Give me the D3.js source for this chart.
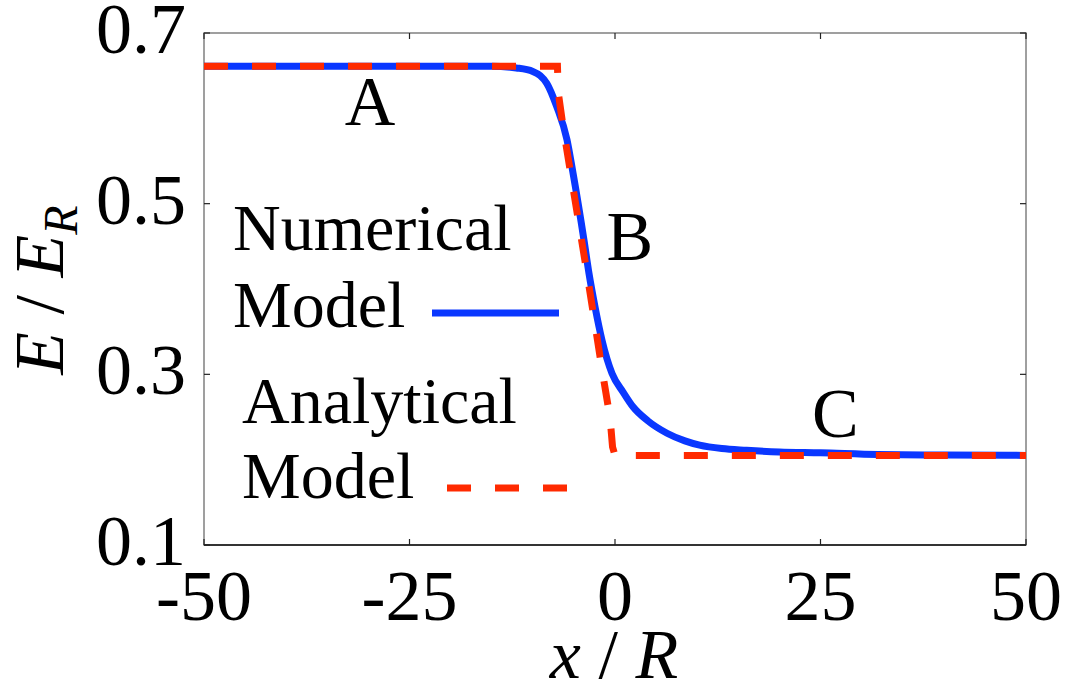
<!DOCTYPE html>
<html>
<head>
<meta charset="utf-8">
<script src="https://cdn.jsdelivr.net/npm/d3@7"></script>
<style>
  html, body { margin: 0; padding: 0; background: #fff; }
  svg { display: block; }
  text { font-family: "Liberation Serif", "Times New Roman", serif; fill: #000; }
</style>
</head>
<body>
<svg id="chart" width="1065" height="687"></svg>
<script>
// numerical model (blue solid)
const numericalX = [-50, -15, -12, -10, -9.1, -8.3, -7.1, -5.84, -5.11, -3.77, -3.16, -2.43, -1.58, -0.36, 1.0, 2.19, 4.0, 6.33, 8.5, 10.3, 13, 16, 20, 25, 32, 40, 50];
const numericalE = [0.661, 0.661, 0.659, 0.655, 0.650, 0.641, 0.614, 0.575, 0.536, 0.457, 0.418, 0.379, 0.340, 0.301, 0.279, 0.262, 0.2455, 0.231, 0.222, 0.217, 0.213, 0.211, 0.209, 0.208, 0.206, 0.2055, 0.205];

// analytical model (red dashed)
const analyticalX = [-50, -7.0, -6.9, -6.3, -3.4, -1.5, -0.6, -0.3, 0, 50];
const analyticalE = [0.661, 0.661, 0.63, 0.589, 0.418, 0.301, 0.249, 0.215, 0.205, 0.205];

const xTicks = [-50, -25, 0, 25, 50];
const yTicks = [0.1, 0.3, 0.5, 0.7];
// letters placed by their baseline
const regionLabels = [
  { text: "A", x: -29.8, e: 0.592 },
  { text: "B", x: 1.8, e: 0.434 },
  { text: "C", x: 26.8, e: 0.227 }
];

const blue = "#0a37ff";
const red = "#ff2a00";

const svg = d3.select("#chart");
const plotLeft = 204, plotRight = 1026, plotTop = 33, plotBottom = 545;

const x = d3.scaleLinear().domain([-50, 50]).range([plotLeft, plotRight]);
const y = d3.scaleLinear().domain([0.1, 0.7]).range([plotBottom, plotTop]);

// frame
svg.append("rect")
  .attr("x", plotLeft).attr("y", plotTop)
  .attr("width", plotRight - plotLeft).attr("height", plotBottom - plotTop)
  .attr("fill", "none").attr("stroke", "#808080").attr("stroke-width", 1.5);
svg.append("line")
  .attr("x1", plotLeft).attr("x2", plotRight).attr("y1", plotBottom).attr("y2", plotBottom)
  .attr("stroke", "#111").attr("stroke-width", 1.5);

// inward ticks on all sides
const tickLen = 6;
const tickLayer = svg.append("g").attr("stroke", "#222").attr("stroke-width", 1.2);
xTicks.forEach((t) => {
  tickLayer.append("line").attr("x1", x(t)).attr("x2", x(t)).attr("y1", plotBottom).attr("y2", plotBottom - tickLen);
  tickLayer.append("line").attr("x1", x(t)).attr("x2", x(t)).attr("y1", plotTop).attr("y2", plotTop + tickLen);
});
yTicks.forEach((t) => {
  tickLayer.append("line").attr("x1", plotLeft).attr("x2", plotLeft + tickLen).attr("y1", y(t)).attr("y2", y(t));
  tickLayer.append("line").attr("x1", plotRight).attr("x2", plotRight - tickLen).attr("y1", y(t)).attr("y2", y(t));
});

// tick labels
svg.append("g").selectAll("text")
  .data(xTicks)
  .join("text")
  .attr("x", (d) => x(d))
  .attr("y", 620)
  .attr("text-anchor", "middle")
  .attr("font-size", 72)
  .text((d) => d);

svg.append("g").selectAll("text")
  .data(yTicks)
  .join("text")
  .attr("x", 186)
  .attr("y", (d) => y(d) + 20)
  .attr("text-anchor", "end")
  .attr("font-size", 72)
  .text((d) => d.toFixed(1));

// axis titles
const xTitle = svg.append("text")
  .attr("x", 614).attr("y", 678)
  .attr("text-anchor", "middle")
  .attr("font-size", 70);
xTitle.append("tspan").attr("font-style", "italic").text("x");
xTitle.append("tspan").text(" / ");
xTitle.append("tspan").attr("font-style", "italic").text("R");

const yTitle = svg.append("text")
  .attr("transform", "translate(63,290) rotate(-90)")
  .attr("text-anchor", "middle")
  .attr("font-size", 70);
yTitle.append("tspan").attr("font-style", "italic").text("E");
yTitle.append("tspan").text(" / ");
yTitle.append("tspan").attr("font-style", "italic").text("E");
yTitle.append("tspan").attr("font-style", "italic").attr("font-size", 48).attr("dy", 14).text("R");

// curves
svg.append("clipPath").attr("id", "plotClip")
  .append("rect").attr("x", plotLeft).attr("y", plotTop)
  .attr("width", plotRight - plotLeft).attr("height", plotBottom - plotTop);

const smoothLine = d3.line().x((d) => x(d[0])).y((d) => y(d[1])).curve(d3.curveMonotoneX);
const straightLine = d3.line().x((d) => x(d[0])).y((d) => y(d[1]));

svg.append("path")
  .datum(d3.zip(numericalX, numericalE))
  .attr("clip-path", "url(#plotClip)")
  .attr("fill", "none")
  .attr("stroke", blue)
  .attr("stroke-width", 7)
  .attr("d", smoothLine);

svg.append("path")
  .datum(d3.zip(analyticalX, analyticalE))
  .attr("clip-path", "url(#plotClip)")
  .attr("fill", "none")
  .attr("stroke", red)
  .attr("stroke-width", 7)
  .attr("stroke-dasharray", "24,24")
  .attr("d", straightLine);

// region letters
svg.append("g").selectAll("text")
  .data(regionLabels)
  .join("text")
  .attr("x", (d) => x(d.x))
  .attr("y", (d) => y(d.e))
  .attr("text-anchor", "middle")
  .attr("font-size", 70)
  .text((d) => d.text);

// legend
const legend = svg.append("g").attr("font-size", 66);
legend.append("text").attr("x", 233).attr("y", 250).text("Numerical");
legend.append("text").attr("x", 233).attr("y", 327).text("Model");
legend.append("line")
  .attr("x1", 432).attr("x2", 559).attr("y1", 313).attr("y2", 313)
  .attr("stroke", blue).attr("stroke-width", 7);
legend.append("text").attr("x", 242).attr("y", 423).text("Analytical");
legend.append("text").attr("x", 242).attr("y", 498).text("Model");
legend.append("line")
  .attr("x1", 447).attr("x2", 570).attr("y1", 488).attr("y2", 488)
  .attr("stroke", red).attr("stroke-width", 7).attr("stroke-dasharray", "24,24");
</script>
</body>
</html>
